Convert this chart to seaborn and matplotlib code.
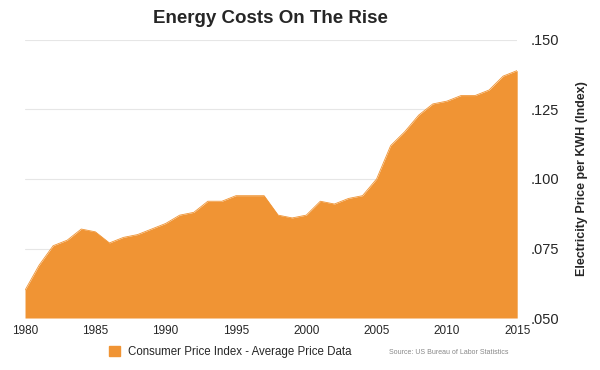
import matplotlib
matplotlib.use('Agg')
import matplotlib.pyplot as plt
import seaborn as sns
import pandas as pd
from matplotlib.ticker import FuncFormatter
from matplotlib.patches import Patch

# Electricity price per KWH, yearly averages
years = list(range(1980, 2016))
price = [0.060, 0.069, 0.076, 0.078, 0.082, 0.081, 0.077, 0.079, 0.080, 0.082,
         0.084, 0.087, 0.088, 0.092, 0.092, 0.094, 0.094, 0.094, 0.087, 0.086,
         0.087, 0.092, 0.091, 0.093, 0.094, 0.100, 0.112, 0.117, 0.123, 0.127,
         0.128, 0.130, 0.130, 0.132, 0.137, 0.139]
x_ticks = [1980, 1985, 1990, 1995, 2000, 2005, 2010, 2015]
y_ticks = [0.050, 0.075, 0.100, 0.125, 0.150]

df = pd.DataFrame({'year': years, 'price': price})
orange = '#F09434'

sns.set_style('white')
plt.rcParams['font.family'] = ['Liberation Sans', 'DejaVu Sans']

fig = plt.figure(figsize=(6, 3.7), dpi=100)
ax = fig.add_axes([0.0417, 0.1405, 0.8203, 0.7515])

sns.lineplot(data=df, x='year', y='price', color=orange, linewidth=0.6, ax=ax, zorder=3)
ax.fill_between(df['year'], df['price'], 0.05, color=orange, linewidth=0, zorder=2)

ax.set_xlim(1980, 2015)
ax.set_ylim(0.05, 0.15)
ax.set_xticks(x_ticks)
ax.set_yticks(y_ticks)
ax.yaxis.set_major_formatter(FuncFormatter(lambda v, p: f'{v:.3f}'.lstrip('0')))
ax.yaxis.tick_right()
ax.yaxis.set_label_position('right')
ax.grid(axis='y', color='#e6e6e6', linewidth=0.8, zorder=0)
ax.set_axisbelow(True)
for s in ax.spines.values():
    s.set_visible(False)
ax.tick_params(axis='x', length=0, labelsize=8.5, pad=5)
ax.tick_params(axis='y', length=0, labelsize=10.5, pad=10)
ax.set_xlabel('')
ax.set_ylabel('Electricity Price per KWH (Index)', fontsize=9, fontweight='bold', labelpad=12)

fig.text(0.45, 0.95, 'Energy Costs On The Rise', ha='center', va='center',
         fontsize=13.5, fontweight='bold')

fig.legend(handles=[Patch(color=orange, label='Consumer Price Index - Average Price Data')],
           loc='center', bbox_to_anchor=(0.384, 0.049), frameon=False, fontsize=8.3,
           handlelength=0.9, handleheight=0.9, handletextpad=0.7)
fig.text(0.847, 0.047, 'Source: US Bureau of Labor Statistics', ha='right', va='center',
         fontsize=5, color='#888888')

fig.savefig('out.png', dpi=100)
